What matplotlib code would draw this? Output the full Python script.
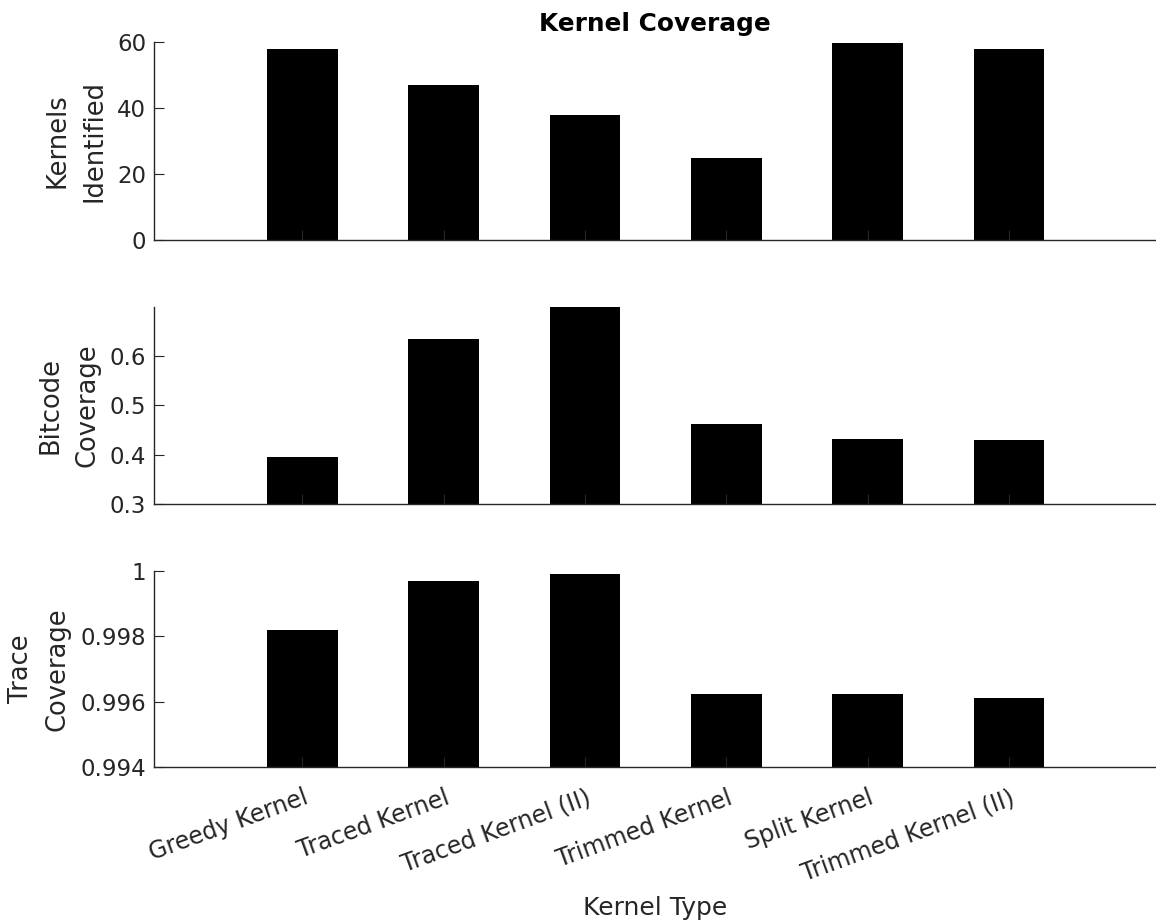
import matplotlib
matplotlib.use("Agg")
import matplotlib.pyplot as plt
from matplotlib.transforms import ScaledTranslation

# Kernel variants and the three coverage metrics
kernel_types = ["Greedy Kernel", "Traced Kernel", "Traced Kernel (II)",
                "Trimmed Kernel", "Split Kernel", "Trimmed Kernel (II)"]
kernels_identified = [58, 47, 38, 25, 59.6, 58]
bitcode_coverage = [0.394, 0.633, 0.697, 0.461, 0.431, 0.429]
trace_coverage = [0.99820, 0.99970, 0.99991, 0.99622, 0.99622, 0.99610]

ylabels = ["Kernels\nIdentified", "Bitcode\nCoverage", "Trace\nCoverage"]
ylims = [(0, 60), (0.3, 0.698), (0.994, 1.0)]
yticks = [[0, 20, 40, 60], [0.3, 0.4, 0.5, 0.6], [0.994, 0.996, 0.998, 1.0]]
yticklabels = [["0", "20", "40", "60"], ["0.3", "0.4", "0.5", "0.6"],
               ["0.994", "0.996", "0.998", "1"]]

plt.rcParams["font.family"] = ["DejaVu Sans"]
axis_color = "#262626"

W, H = 1156, 924
fig = plt.figure(figsize=(W / 100, H / 100), dpi=100)

# panel extents in pixels (top, bottom)
panels = [(42, 240), (307, 504), (571, 767)]
left_px = 154
x = list(range(1, len(kernel_types) + 1))
series = [kernels_identified, bitcode_coverage, trace_coverage]

axes = []
for i, ((top, bot), vals) in enumerate(zip(panels, series)):
    ax = fig.add_axes([left_px / W, 1 - bot / H, (W - left_px) / W, (bot - top) / H])
    ax.bar(x, vals, width=0.5, color="black", edgecolor="none")
    ax.set_xlim(-0.05, 7.04)
    ax.set_ylim(*ylims[i])
    ax.set_yticks(yticks[i])
    ax.set_yticklabels(yticklabels[i])
    ax.set_xticks(x)
    ax.spines["top"].set_visible(False)
    ax.spines["right"].set_visible(False)
    for s in ("left", "bottom"):
        ax.spines[s].set_color(axis_color)
        ax.spines[s].set_linewidth(1.0)
    ax.tick_params(direction="in", length=7, width=0.8, color=axis_color,
                   labelcolor=axis_color, labelsize=16.5, pad=5.5)
    ax.set_ylabel(ylabels[i], fontsize=18.5, color=axis_color, linespacing=1.55,
                  labelpad=7)
    if i < 2:
        ax.set_xticklabels([])
    axes.append(ax)

axes[0].set_title("Kernel Coverage", fontsize=17.8, fontweight="bold", pad=8)

ax3 = axes[2]
ax3.set_xticklabels(kernel_types, rotation=20, ha="right", va="top",
                    rotation_mode="anchor", fontsize=17)
shift = ScaledTranslation(1 / 100, -11 / 100, fig.dpi_scale_trans)
for lab in ax3.get_xticklabels():
    lab.set_transform(lab.get_transform() + shift)

ax3.set_xlabel("Kernel Type", fontsize=18, color=axis_color, va="baseline")
ax3.xaxis.set_label_coords(0.5, (767 - 915) / (767 - 571))

fig.savefig("out.png", dpi=100)
